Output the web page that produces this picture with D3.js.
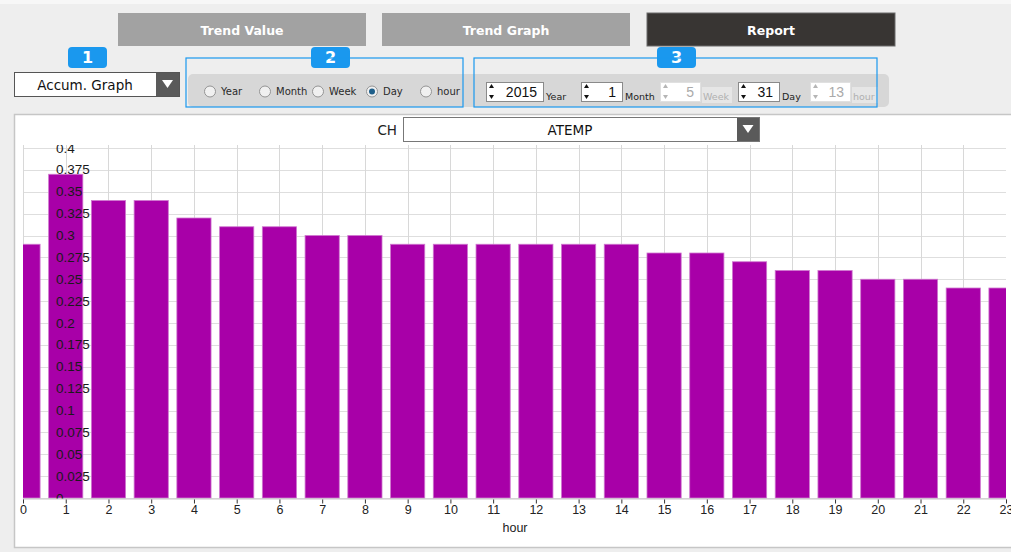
<!DOCTYPE html>
<html><head><meta charset="utf-8">
<script src="https://cdn.jsdelivr.net/npm/d3@7"></script>
<style>
html,body{margin:0;padding:0;background:#eeeeee;}
svg{display:block;font-family:"DejaVu Sans",sans-serif;}
</style></head>
<body><svg id="c" width="1011" height="552"></svg>
<script>
// ---- data ----
const hours = [0,1,2,3,4,5,6,7,8,9,10,11,12,13,14,15,16,17,18,19,20,21,22,23];
const values = [0.29,0.37,0.34,0.34,0.32,0.31,0.31,0.30,0.30,0.29,0.29,0.29,0.29,0.29,0.29,0.28,0.28,0.27,0.26,0.26,0.25,0.25,0.24,0.24];
const yTicks = [0,0.025,0.05,0.075,0.1,0.125,0.15,0.175,0.2,0.225,0.25,0.275,0.3,0.325,0.35,0.375,0.4];
const yTickLabels = ["0","0.025","0.05","0.075","0.1","0.125","0.15","0.175","0.2","0.225","0.25","0.275","0.3","0.325","0.35","0.375","0.4"];
const tabs = ["Trend Value","Trend Graph","Report"];
const periodOptions = ["Year","Month","Week","Day","hour"];
const selectedPeriod = "Day";
const spinners = [
  {value:"2015", label:"Year", enabled:true},
  {value:"1", label:"Month", enabled:true},
  {value:"5", label:"Week", enabled:false},
  {value:"31", label:"Day", enabled:true},
  {value:"13", label:"hour", enabled:false}
];
const graphType = "Accum. Graph";
const channel = "ATEMP";
const xTitle = "hour";

const svg = d3.select("#c");
const BLUE = "#1a98ee";

// top strip
svg.append("rect").attr("x",0).attr("y",0).attr("width",1011).attr("height",4).attr("fill","#f7f7f7");

// ---- tabs ----
const tabX = [118,382,647];
tabs.forEach((t,i)=>{
  const g = svg.append("g");
  g.append("rect").attr("x",tabX[i]).attr("y",13).attr("width",248).attr("height",33)
    .attr("fill", i===2 ? "#383533" : "#a2a2a2")
    .attr("stroke", i===2 ? "#6a6a6a" : "none");
  g.append("text").attr("x",tabX[i]+124).attr("y",30).attr("text-anchor","middle")
    .attr("dominant-baseline","central").attr("fill","#fff").attr("font-weight","bold")
    .attr("font-size",12.5).text(t);
});

// ---- badges ----
[[68,"1"],[311,"2"],[657,"3"]].forEach(([bx,lab])=>{
  svg.append("rect").attr("x",bx).attr("y",47).attr("width",39).attr("height",21).attr("rx",4).attr("fill",BLUE);
  svg.append("text").attr("x",bx+19.5).attr("y",57.5).attr("text-anchor","middle").attr("dominant-baseline","central")
    .attr("fill","#fff").attr("font-weight","bold").attr("font-size",16).text(lab);
});

// ---- dropdown 1 ----
svg.append("rect").attr("x",14.5).attr("y",72.5).attr("width",165).attr("height",24).attr("fill","#fff").attr("stroke","#555");
svg.append("rect").attr("x",156).attr("y",73).attr("width",23).attr("height",23).attr("fill","#5a5a5a");
svg.append("path").attr("d","M162,80 L173,80 L167.5,88 Z").attr("fill","#fff");
svg.append("text").attr("x",85).attr("y",85).attr("text-anchor","middle").attr("dominant-baseline","central")
  .attr("font-size",13.5).attr("fill","#111").text(graphType);

// ---- grey control panel ----
svg.append("rect").attr("x",188).attr("y",74).attr("width",701).attr("height",33).attr("rx",5).attr("fill","#d7d7d7");

// ---- radios ----
const radioX = [210,265,318,372,426];
periodOptions.forEach((p,i)=>{
  const cx = radioX[i], cy = 91.5;
  svg.append("circle").attr("cx",cx).attr("cy",cy).attr("r",5.5).attr("fill","#f0f0f0").attr("stroke","#949494");
  if(p===selectedPeriod){
    svg.append("circle").attr("cx",cx).attr("cy",cy).attr("r",3).attr("fill","#1f5f8a");
  }
  svg.append("text").attr("x",cx+11).attr("y",cy).attr("dominant-baseline","central")
    .attr("font-size",10).attr("fill","#2a2a2a").text(p);
});
svg.append("rect").attr("x",186).attr("y",58).attr("width",277).attr("height",49).attr("fill","none").attr("stroke",BLUE).attr("stroke-width",1.2);

// ---- spinners ----
const spinX = [[486,57],[581,41],[660,40],[738,41],[810,40]];
const labelW = [0,0,30,0,26];
spinners.forEach((s,i)=>{
  const [sx,sw] = spinX[i];
  const col = s.enabled ? "#111" : "#b5b5b5";
  svg.append("rect").attr("x",sx+0.5).attr("y",82.5).attr("width",sw).attr("height",19).attr("fill","#fff")
    .attr("stroke", s.enabled ? "#8a8a8a" : "#e0e0e0");
  svg.append("path").attr("d",`M${sx+3},${88} L${sx+8},${88} L${sx+5.5},${84} Z`).attr("fill",col);
  svg.append("path").attr("d",`M${sx+3},${95} L${sx+8},${95} L${sx+5.5},${99} Z`).attr("fill",col);
  svg.append("text").attr("x",sx+sw-6).attr("y",91.5).attr("text-anchor","end").attr("dominant-baseline","central")
    .attr("font-family","Liberation Sans, sans-serif").attr("font-size",14).attr("fill",s.enabled ? "#111" : "#aaa").text(s.value);
  const lx = sx+sw+3;
  if(!s.enabled){
    svg.append("rect").attr("x",lx-1).attr("y",87).attr("width",labelW[i]).attr("height",16).attr("fill","#e6e6e6");
  }
  svg.append("text").attr("x",lx).attr("y",96).attr("dominant-baseline","central")
    .attr("font-size",9.5).attr("fill",s.enabled ? "#222" : "#b0b0b0").text(s.label);
});
svg.append("rect").attr("x",474).attr("y",58).attr("width",403).attr("height",49).attr("fill","none").attr("stroke",BLUE).attr("stroke-width",1.2);

// ---- chart panel ----
svg.append("rect").attr("x",14.5).attr("y",114.5).attr("width",1010).attr("height",433).attr("fill","#fff").attr("stroke","#c6c6c6").attr("stroke-width",1.5);

// CH dropdown
svg.append("text").attr("x",397).attr("y",130).attr("text-anchor","end").attr("dominant-baseline","central")
  .attr("font-size",13.5).attr("fill","#222").text("CH");
svg.append("rect").attr("x",403.5).attr("y",117.5).attr("width",356).attr("height",24).attr("fill","#fff").attr("stroke","#777");
svg.append("rect").attr("x",737).attr("y",118).attr("width",22).attr("height",23).attr("fill","#5a5a5a");
svg.append("path").attr("d","M742.5,125 L753.5,125 L748,133 Z").attr("fill","#fff");
svg.append("text").attr("x",570).attr("y",130).attr("text-anchor","middle").attr("dominant-baseline","central")
  .attr("font-size",13.5).attr("fill","#111").text(channel);

// ---- plot ----
const x = d3.scaleLinear().domain([0,23]).range([23,1006]);
const y = d3.scaleLinear().domain([0,0.4]).range([498,148]);
const barW = (x(1)-x(0))*0.8;

svg.append("clipPath").attr("id","pc").append("rect").attr("x",23).attr("y",145).attr("width",983).attr("height",354);
const plot = svg.append("g").attr("clip-path","url(#pc)");

plot.selectAll("line.hg").data(yTicks).join("line").attr("class","hg")
  .attr("x1",x(0)).attr("x2",x(23)).attr("y1",d=>Math.round(y(d))+0.5).attr("y2",d=>Math.round(y(d))+0.5)
  .attr("stroke","#dedede");
plot.selectAll("line.vg").data(hours).join("line").attr("class","vg")
  .attr("x1",d=>Math.round(x(d))+0.5).attr("x2",d=>Math.round(x(d))+0.5).attr("y1",145).attr("y2",498)
  .attr("stroke","#d8d8d8");

plot.selectAll("rect.bar").data(values).join("rect").attr("class","bar")
  .attr("x",(d,i)=>x(hours[i])-barW/2).attr("width",barW)
  .attr("y",d=>y(d)).attr("height",d=>y(0)-y(d))
  .attr("fill","#a800a8").attr("stroke","#cf78cf").attr("stroke-width",0.8);

plot.selectAll("text.yl").data(yTicks).join("text").attr("class","yl")
  .attr("x",56).attr("y",d=>y(d)).attr("dominant-baseline","central")
  .attr("font-family","Liberation Sans, sans-serif").attr("font-size",13.5).attr("fill","#1a1a1a")
  .text((d,i)=>yTickLabels[i]);

// x axis
const xAxis = svg.append("g").attr("transform","translate(0,498.5)")
  .call(d3.axisBottom(x).tickValues(hours).tickSize(4).tickPadding(3).tickFormat(d=>String(d)));
xAxis.select(".domain").attr("stroke","#c8c8c8");
xAxis.selectAll(".tick line").attr("stroke","#333").attr("transform","translate(0,1)");
xAxis.selectAll(".tick text").attr("font-family","Liberation Sans, sans-serif").attr("font-size",12.5).attr("fill","#222");

svg.append("text").attr("x",515).attr("y",528).attr("text-anchor","middle").attr("dominant-baseline","central")
  .attr("font-family","Liberation Sans, sans-serif").attr("font-size",12.5).attr("fill","#222").text(xTitle);
</script></body></html>
